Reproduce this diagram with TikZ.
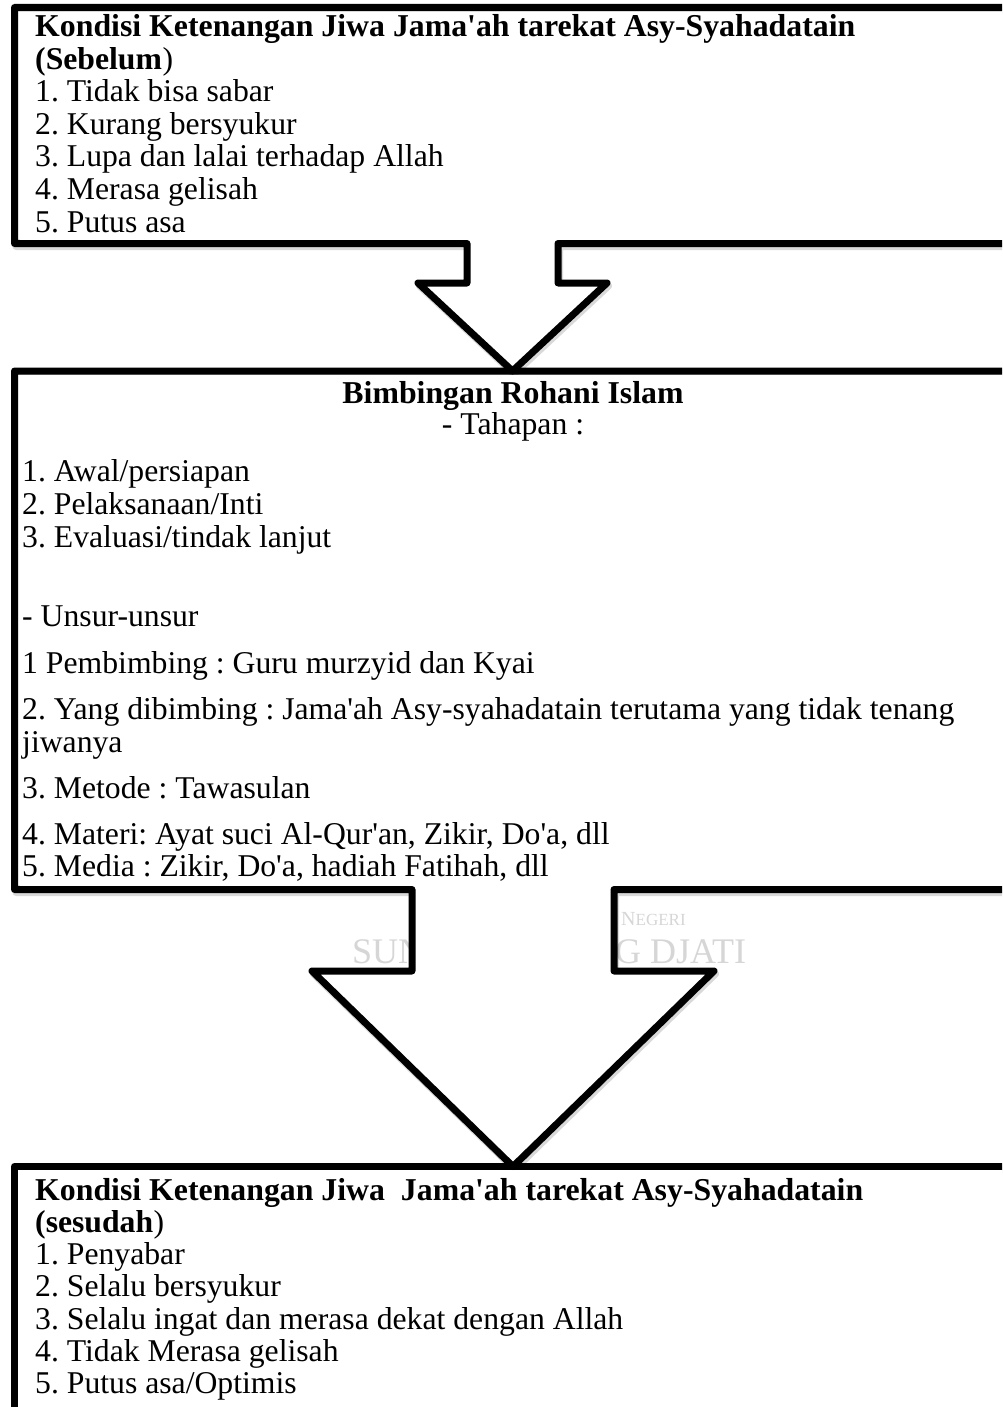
\documentclass[tikz,border=0pt]{standalone}
\usepackage{fontspec}
\setmainfont{Liberation Serif}
\newcommand{\ap}{\textquotesingle}
\frenchspacing
\begin{document}
\frenchspacing
\begin{tikzpicture}[x=1pt,y=-1pt, line join=round, line cap=round,
  txt/.style={anchor=base west, inner sep=0pt, font=\fontsize{31.7}{33}\selectfont},
  hd/.style={anchor=base west, inner sep=0pt, font=\fontsize{31.8}{33}\selectfont\bfseries},
  ctr/.style={anchor=base, inner sep=0pt, font=\fontsize{31.7}{33}\selectfont},
  frame/.style={line width=7pt, draw=black},
  shade/.style={line width=7pt, draw=black, opacity=0.15},
  wmark/.style={inner sep=0pt, text=black!16}]
\clip (0,0) rectangle (1002,1407);
\fill[white] (0,0) rectangle (1002,1407);

% watermark (partly hidden by the lower arrow)
\node[wmark, anchor=base west, font=\fontsize{36}{36}\selectfont] (wm1) at (352,963) {SUNAN GUNUNG DJATI};
\node[wmark, anchor=base west, font=\fontsize{20}{20}\selectfont] (wm2) at (621,925) {N\fontsize{17}{17}\selectfont EGERI};

% shadows
\begin{scope}[shift={(1.5,3)}]
\draw[shade] (1030,7.5) -- (14.5,7.5) -- (14.5,243.5) -- (467,243.5) -- (467,283) -- (418,283) -- (512.5,371) -- (607,283) -- (558,283) -- (558,243.5) -- (1030,243.5);
\draw[shade] (1030,371) -- (14.5,371) -- (14.5,889.5) -- (412,889.5) -- (412,971) -- (312,971) -- (513,1166.5) -- (714,971) -- (614,971) -- (614,889.5) -- (1030,889.5);
\draw[shade] (1030,1166.5) -- (14.5,1166.5) -- (14.5,1410) -- (1030,1410);
\end{scope}
\fill[white] (15,12) rectangle (1002,239);
\fill[white] (15,375) rectangle (1002,885);
\fill[white] (15,1170) rectangle (1002,1407);
\fill[white] (467,243.5) -- (467,283) -- (418,283) -- (512.5,371) -- (607,283) -- (558,283) -- (558,243.5) -- cycle;
\fill[white] (412,889.5) -- (412,971) -- (312,971) -- (513,1166.5) -- (714,971) -- (614,971) -- (614,889.5) -- cycle;

% box 1 with arrow 1
\draw[frame] (1030,7.5) -- (14.5,7.5) -- (14.5,243.5) -- (467,243.5) -- (467,283) -- (418,283) -- (512.5,371) -- (607,283) -- (558,283) -- (558,243.5) -- (1030,243.5);
% box 2 with arrow 2
\draw[frame] (1030,371) -- (14.5,371) -- (14.5,889.5) -- (412,889.5) -- (412,971) -- (312,971) -- (513,1166.5) -- (714,971) -- (614,971) -- (614,889.5) -- (1030,889.5);
% box 3
\draw[frame] (1030,1166.5) -- (14.5,1166.5) -- (14.5,1410) -- (1030,1410);

% box 1 text
\node[hd] (a0) at (35,37) {Kondisi Ketenangan Jiwa Jama\ap ah tarekat Asy-Syahadatain};
\node[txt] (a1) at (35,69.5) {\textbf{(Sebelum}\kern0.5pt)};
\node[txt] (a2) at (35,102) {1. Tidak bisa sabar};
\node[txt] (a3) at (35,134.5) {2. Kurang bersyukur};
\node[txt] (a4) at (35,167) {3. Lupa dan lalai terhadap Allah};
\node[txt] (a5) at (35,199.5) {4. Merasa gelisah};
\node[txt] (a6) at (35,232) {5. Putus asa};

% box 2 text
\node[ctr, font=\fontsize{31.8}{33}\selectfont\bfseries] (b0) at (513,403) {Bimbingan Rohani Islam};
\node[ctr] (b1) at (513,434) {- Tahapan :};
\node[txt] (b2) at (22,481) {1. Awal/persiapan};
\node[txt] (b3) at (22,514) {2. Pelaksanaan/Inti};
\node[txt] (b4) at (22,547) {3. Evaluasi/tindak lanjut};
\node[txt] (b5) at (22,626) {- Unsur-unsur};
\node[txt] (b6) at (22,673) {1 Pembimbing : Guru murzyid dan Kyai};
\node[txt] (b7) at (22,719) {2. Yang dibimbing : Jama\ap ah Asy-syahadatain terutama yang tidak tenang};
\node[txt] (b8) at (22,752) {jiwanya};
\node[txt] (b9) at (22,798) {3. Metode : Tawasulan};
\node[txt] (b10) at (22,844) {4. Materi: Ayat suci Al-Qur\ap an, Zikir, Do\ap a, dll};
\node[txt] (b11) at (22,876) {5. Media : Zikir, Do\ap a, hadiah Fatihah, dll};

% box 3 text
\node[hd] (c0) at (35,1200) {Kondisi Ketenangan Jiwa\ \ Jama\ap ah tarekat Asy-Syahadatain};
\node[txt] (c1) at (35,1232) {\textbf{(sesudah}\kern0.5pt)};
\node[txt] (c2) at (35,1264) {1. Penyabar};
\node[txt] (c3) at (35,1296.5) {2. Selalu bersyukur};
\node[txt] (c4) at (35,1329) {3. Selalu ingat dan merasa dekat dengan Allah};
\node[txt] (c5) at (35,1361) {4. Tidak Merasa gelisah};
\node[txt] (c6) at (35,1393) {5. Putus asa/Optimis};
\end{tikzpicture}
\end{document}
